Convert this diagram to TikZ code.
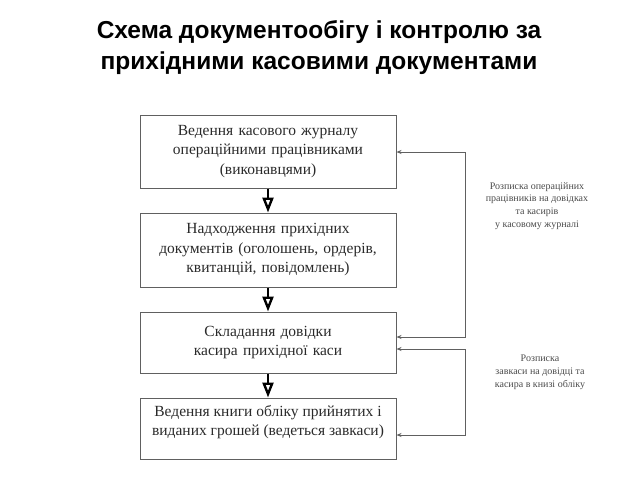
\documentclass[tikz,border=0pt]{standalone}
\usepackage{fontspec}
\setmainfont{Liberation Serif}
\newfontfamily\titlefont{Liberation Sans}
\usetikzlibrary{arrows.meta}
\definecolor{boxgray}{HTML}{606060}
\definecolor{textdark}{HTML}{2A2A2A}
\definecolor{notegray}{HTML}{4A4A4A}
\begin{document}
\begin{tikzpicture}[x=1pt,y=-1pt,
  box/.style={draw=boxgray, line width=1pt, minimum width=256pt, text width=250pt, inner sep=0pt, align=center, font=\fontsize{15.5}{19.5}\selectfont, text=textdark},
  boxtext/.style={inner sep=0pt, align=center, font=\fontsize{15.5}{19.5}\selectfont, text=textdark},
  down/.style={line width=2.6pt, -{Triangle[open,length=15pt,width=11pt,line width=2.4pt]}},
  conn/.style={draw=boxgray, line width=1pt, {Stealth[length=5pt,width=4pt]}-{Stealth[length=5pt,width=4pt]}},
  note/.style={inner sep=0pt, align=center, font=\fontsize{10}{12.8}\selectfont, text=notegray},
  title/.style={inner sep=0pt, align=center, font=\titlefont\bfseries\fontsize{24.5}{31}\selectfont, text=black}]
\useasboundingbox (0,0) rectangle (640,480);
\node[title] (t) at (319,48) {Схема документообігу і контролю за\\прихідними касовими документами};
\node[box, minimum height=73pt] (b1) at (268,151.5) {Ведення касового журналу\\операційними працівниками\\(виконавцями)};
\node[box, minimum height=74pt] (b2) at (268,250) {Надходження прихідних\\документів (оголошень, ордерів,\\квитанцій, повідомлень)};
\node[box, minimum height=61pt] (b3) at (268,342.5) {Складання довідки\\касира прихідної каси};
\node[box, minimum height=61pt] (b4) at (268,428.5) {};
\node[boxtext] (b4t) at (268,422) {Ведення книги обліку прийнятих і\\виданих грошей (ведеться завкаси)};
\draw[down] (b1) -- (b2);
\draw[down] (b2) -- (b3);
\draw[down] (b3) -- (b4);
\coordinate (r1t) at (465,152);
\coordinate (r1b) at (465,337);
\coordinate (r2t) at (465,349);
\coordinate (r2b) at (465,435);
\draw[conn] (b1.east |- r1t) -- (r1t) -- (r1b) -- (b3.east |- r1b);
\draw[conn] (b3.east |- r2t) -- (r2t) -- (r2b) -- (b4.east |- r2b);
\node[note] (n1) at (537,206) {Розписка операційних\\працівників на довідках\\та касирів\\у касовому журналі};
\node[note] (n2) at (540,372) {Розписка\\завкаси на довідці та\\касира в книзі обліку};
\end{tikzpicture}
\end{document}
